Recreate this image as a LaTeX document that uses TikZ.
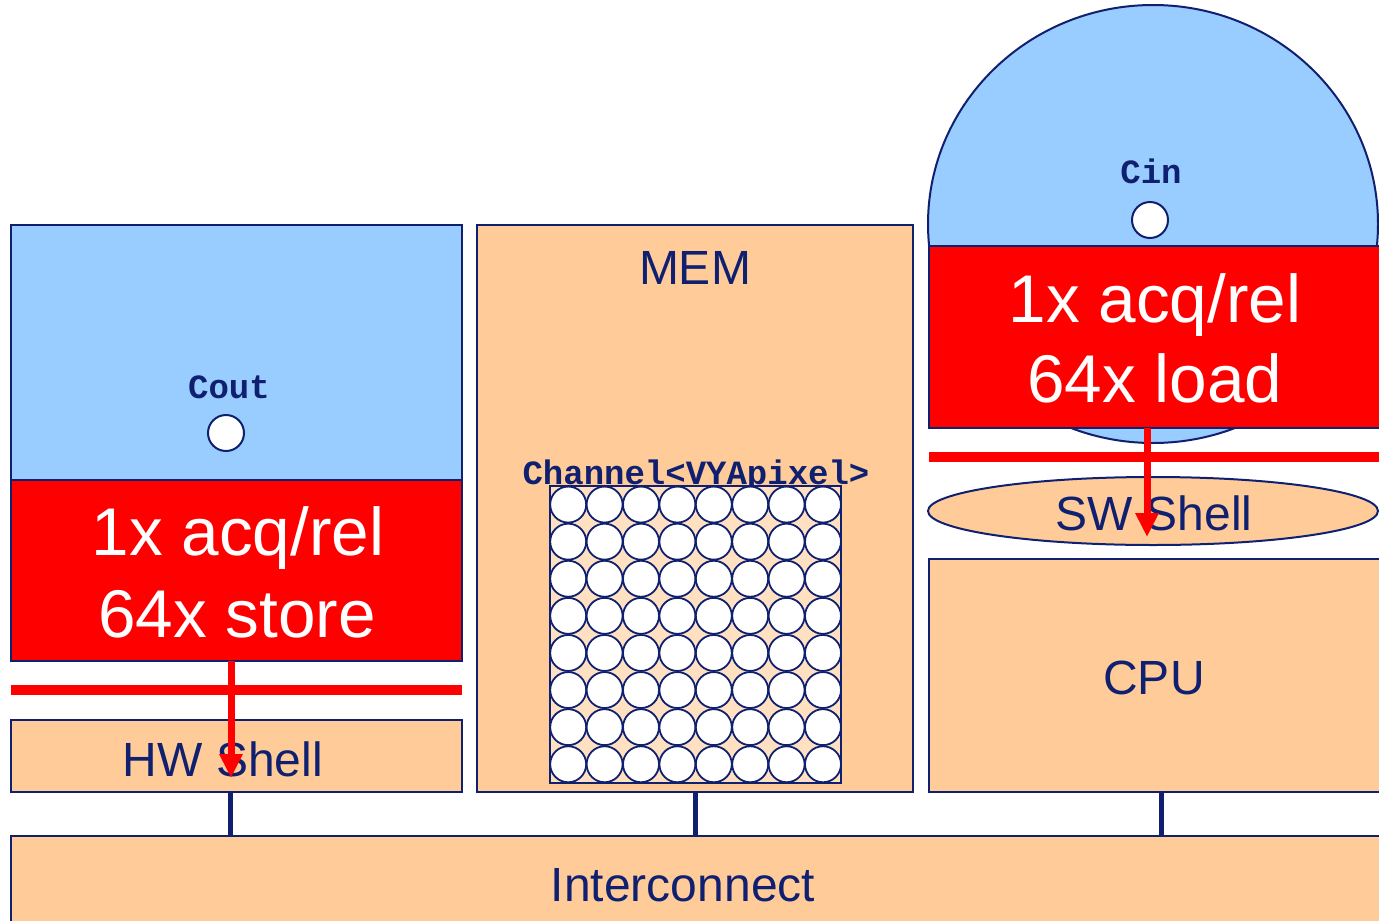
\documentclass[tikz,border=0pt]{standalone}
\usepackage{fontspec}
\setmainfont{Liberation Sans}
\newfontfamily\codefont{Liberation Mono}
\usetikzlibrary{shapes.geometric,arrows.meta}
\definecolor{navy}{RGB}{16,32,112}
\definecolor{peach}{RGB}{255,204,153}
\definecolor{sky}{RGB}{153,204,255}
\definecolor{alarm}{RGB}{255,0,0}
\definecolor{palepeach}{RGB}{255,224,192}
\begin{document}
\begin{tikzpicture}[x=1pt,y=-1pt,
  box/.style={draw=navy, line width=2pt, rectangle, inner sep=0pt, outer sep=0pt},
  oval/.style={draw=navy, line width=2pt, ellipse, inner sep=0pt, outer sep=0pt},
  label/.style={font=\fontsize{48}{58}\selectfont, text=navy, inner sep=0pt, anchor=base},
  redlabel/.style={font=\fontsize{67.5}{80}\selectfont, text=white, inner sep=0pt, anchor=base},
  codelabel/.style={font=\codefont\bfseries\fontsize{34}{40}\selectfont, text=navy, inner sep=0pt, anchor=base},
  port/.style={circle, draw=navy, line width=2pt, fill=white, minimum size=36pt, inner sep=0pt},
  link/.style={draw=navy, line width=5pt},
  redbar/.style={draw=alarm, line width=10pt},
  flow/.style={draw=alarm, line width=7pt, -{Triangle[length=24pt,width=22pt]}}]
\useasboundingbox (0,0) rectangle (1379,921);
\clip (0,0) rectangle (1379,921);

% ---------- left column: hardware side ----------
\node[box, fill=sky, minimum width=451pt, minimum height=255pt] (coutbg) at (236.5,352.5) {};
\node[codelabel] (couttxt) at (229,398) {Cout};
\node[port] (coutport) at (226,433) {};
\node[box, fill=alarm, minimum width=451pt, minimum height=181pt] (coutred) at (236.5,570.5) {};
\node[redlabel] (coutl1) at (238,555) {1x acq/rel};
\node[redlabel] (coutl2) at (237,637) {64x store};
\draw[redbar] (11,690) -- (462,690);
\node[box, fill=peach, minimum width=451pt, minimum height=72pt] (hwshell) at (236.5,756) {};
\node[label] (hwtxt) at (223,776) {HW Shell};

% ---------- middle column: memory with channel buffer ----------
\node[box, fill=peach, minimum width=436pt, minimum height=567pt] (mem) at (695,508.5) {};
\node[label] (memtxt) at (695,284) {MEM};
\node[codelabel] (chantxt) at (696,484) {Channel<VYApixel>};
\node[box, line width=1.5pt, fill=palepeach, minimum width=291pt, minimum height=297pt] (grid) at (695.5,634.5) {};
\foreach \i in {0,...,7}{
  \foreach \j in {0,...,7}{
    \draw[navy, line width=1.8pt, fill=white] ({550+36.4*(\i+0.5)},{486+37.1*(\j+0.5)}) circle (18);
  }
}

% ---------- right column: software side ----------
\node[oval, fill=sky, minimum width=450pt, minimum height=438pt] (cinbg) at (1153,224) {};
\node[codelabel] (cintxt) at (1151,183) {Cin};
\node[port] (cinport) at (1150,220) {};
\node[box, fill=alarm, minimum width=462pt, minimum height=182pt] (cinred) at (1160,337) {};
\node[redlabel] (cinl1) at (1155,322) {1x acq/rel};
\node[redlabel] (cinl2) at (1155,402) {64x load};
\draw[redbar] (929,457) -- (1391,457);
\node[oval, fill=peach, minimum width=450pt, minimum height=68pt] (swshell) at (1153,511) {};
\node[label] (swtxt) at (1154,530) {SW Shell};
\node[box, fill=peach, minimum width=462pt, minimum height=233pt] (cpu) at (1160,675.5) {};
\node[label] (cputxt) at (1154,694) {CPU};

% ---------- interconnect ----------
\node[box, fill=peach, minimum width=1380pt, minimum height=94pt] (ic) at (701,883) {};
\node[label] (ictxt) at (683,901) {Interconnect};

% bus links
\coordinate (hwtap) at (230,792);
\coordinate (memtap) at (695,792);
\coordinate (cputap) at (1161,792);
\draw[link] (hwtap) -- (hwtap |- ic.north);
\draw[link] (memtap) -- (memtap |- ic.north);
\draw[link] (cputap) -- (cputap |- ic.north);

% data flow arrows
\coordinate (hwfrom) at (231,661);
\coordinate (hwto) at (231,778);
\coordinate (swfrom) at (1147,428);
\coordinate (swto) at (1147,537);
\draw[flow] (hwfrom) -- (hwto);
\draw[flow] (swfrom) -- (swto);
\end{tikzpicture}
\end{document}
